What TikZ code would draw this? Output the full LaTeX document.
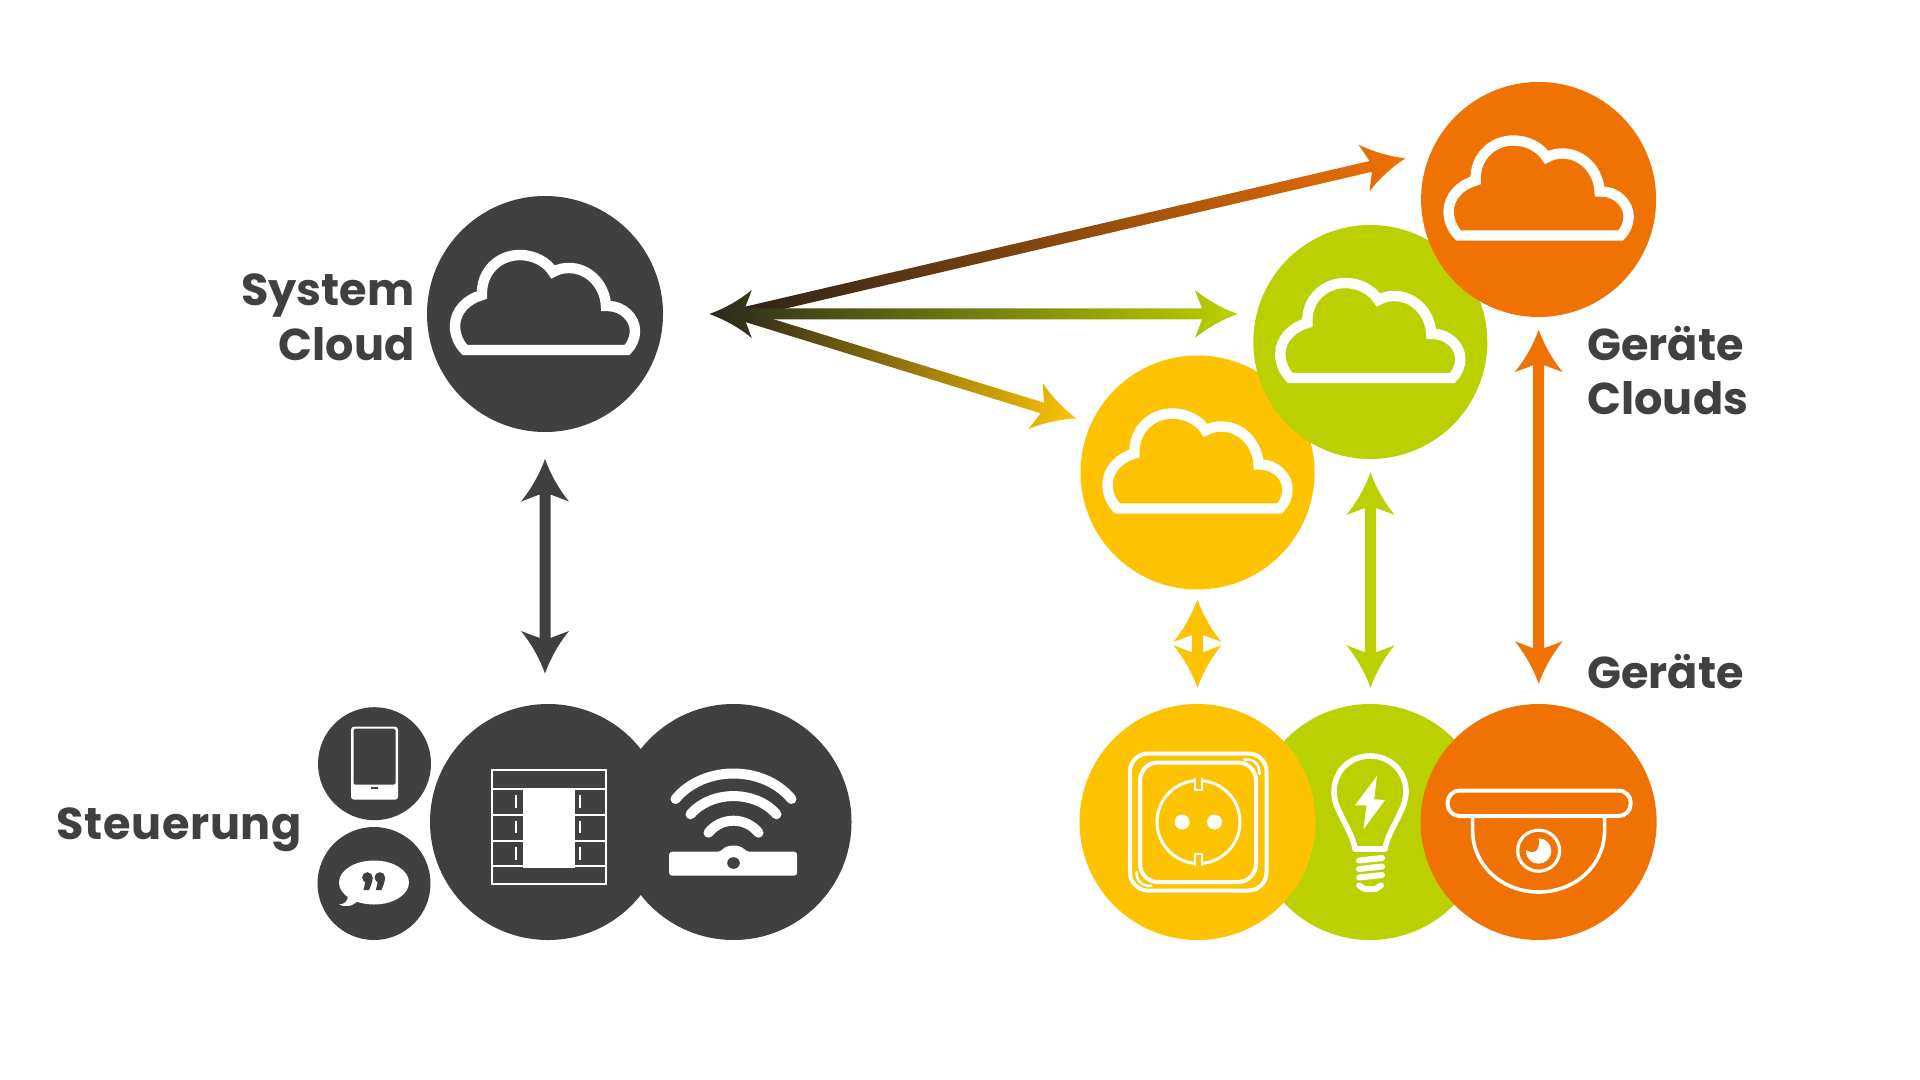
\documentclass[tikz,border=0pt]{standalone}
\usepackage{fontspec}
\setmainfont{Poppins}
\usetikzlibrary{calc}
\definecolor{dark}{HTML}{404040}
\definecolor{yel}{HTML}{FDC300}
\definecolor{grn}{HTML}{BBD000}
\definecolor{org}{HTML}{EF7203}
\definecolor{startg}{HTML}{2A2A1C}
\definecolor{starto}{HTML}{2B2218}
\definecolor{starty}{HTML}{2D2A18}
\tikzset{
  disc/.style={circle,inner sep=0pt,minimum size=#1*0.5pt},
  lab/.style={inner sep=0pt,text=dark,font=\fontsize{22.3}{26}\selectfont\bfseries},
  cloudicon/.pic={
    \draw[white,line width=5.2pt,miter limit=3]
      (-80,36) .. controls (-87,29) and (-90,20) .. (-90,12)
      .. controls (-90,-3) and (-78,-15) .. (-63,-19)
      .. controls (-64,-42) and (-47,-59) .. (-25,-59)
      .. controls (-11,-59) and (2,-52) .. (8,-42)
      .. controls (13,-45) and (19,-46) .. (24,-46)
      .. controls (44,-46) and (60,-29) .. (61,-8)
      -- (63,-8)
      .. controls (78,-8) and (90,4) .. (90,17)
      .. controls (90,24) and (87,31) .. (82,36) -- cycle;
  },
  phoneicon/.pic={
    \fill[white,rounded corners=1.5pt] (-23.5,-37) rectangle (23.5,36);
    \fill[dark,rounded corners=.8pt] (-21,-35) -- (21,-35) -- (21,21) -- (-21,21) -- cycle;
    \fill[dark] (-3.5,23.6) rectangle (3.5,25);
  },
  speechicon/.pic={
    \fill[white] (0,-1) ellipse (35 and 22);
    \fill[white] (-26,12) .. controls (-26,18) and (-30,21) .. (-35,21) .. controls (-28,24) and (-21,23) .. (-16,17) -- cycle;
    \foreach \qx in {-6.6,5.8}{
      \fill[dark] (\qx,-6) circle (5.3);
      \fill[dark] (\qx+5.2,-6) .. controls (\qx+5.2,-1) and (\qx+3,3) .. (\qx+1.6,6.5) -- (\qx-3.9,6.5) .. controls (\qx-3.5,3) and (\qx-2,0) .. (\qx-2,-3) -- cycle;
    }
  },
  panelicon/.pic={
    \draw[white,line width=1pt] (-56.5,-52) rectangle (57.5,62);
    \foreach \yy in {-32.7,-7,18.7,43.7}
      \draw[white,line width=1pt] (-56.5,\yy) -- (57.5,\yy);
    \fill[white] (-25.5,-33.7) rectangle (27,45.7);
    \foreach \ya/\yb in {-27/-14.3,-1.3/11.3,24.7/38}{
      \draw[white,line width=1pt] (-32,\ya) -- (-32,\yb);
      \draw[white,line width=1pt] (32,\ya) -- (32,\yb);
    }
  },
  routericon/.pic={
    \draw[white,line width=5pt,line cap=round] (-58,-23) .. controls (-30,-57) and (30,-57) .. (58,-23);
    \draw[white,line width=5pt,line cap=round] (-43,-7.7) .. controls (-22,-32) and (22,-32) .. (43,-7.7);
    \draw[white,line width=5pt,line cap=round] (-25,10.7) .. controls (-12,-5.3) and (12,-5.3) .. (25,10.7);
    \fill[white,rounded corners=1.5pt] (-64.4,29.7) -- (-13,29.7) .. controls (-9,25) and (-4,23.7) .. (0,23.7) .. controls (4,23.7) and (9,25) .. (13,29.7) -- (63.6,29.7) -- (63.6,53.7) -- (-64.4,53.7) -- cycle;
    \fill[dark] (0,41) ellipse (6.3 and 5.8);
  },
  socketicon/.pic={
    \draw[white,line width=2pt,rounded corners=9pt] (-67.5,-68.5) rectangle (69,68.5);
    \draw[white,line width=2pt,rounded corners=9pt] (-57.5,-59.5) rectangle (58.5,60);
    \draw[white,line width=1.3pt,line cap=round] (47,-62.5) .. controls (57,-63) and (62,-58) .. (62,-48);
    \draw[white,line width=1.3pt,line cap=round] (-61,50) .. controls (-61,59) and (-56,64) .. (-46,64);
    \draw[white,line width=1.5pt] (1,0) circle (41.5);
    \fill[yel] (-2.5,-44) rectangle (4.5,-32);
    \draw[white,line width=1pt] (-2.5,-44) -- (-2.5,-32) -- (4.5,-32) -- (4.5,-44);
    \fill[yel] (-2.5,44) rectangle (4.5,32);
    \draw[white,line width=1pt] (-2.5,44) -- (-2.5,32) -- (4.5,32) -- (4.5,44);
    \fill[white] (-15.3,0) circle (7.5);
    \fill[white] (17,0) circle (7.5);
  },
  bulbicon/.pic={
    \draw[white,line width=2.8pt,line join=round]
      (-15,27) .. controls (-17,14) and (-25,3) .. (-30,-9)
      .. controls (-34,-16) and (-36,-24) .. (-36,-30)
      .. controls (-36,-51) and (-20,-66) .. (0,-66)
      .. controls (20,-66) and (36,-51) .. (36,-30)
      .. controls (36,-24) and (34,-16) .. (30,-9)
      .. controls (25,3) and (17,14) .. (15,27) -- cycle;
    \fill[white] (6.9,-46) -- (-15,-16.7) -- (-3.5,-16.7) -- (-6.5,7.3) -- (15,-22) -- (4.2,-22.7) -- cycle;
    \draw[white,line width=3pt,line cap=round] (-11,38.5) -- (12,36);
    \draw[white,line width=3pt,line cap=round] (-11,47) -- (12,44.5);
    \draw[white,line width=3pt,line cap=round] (-11,55.5) -- (12,53);
    \draw[white,line width=3pt,line cap=round,line join=round] (-11,63.5) -- (-5.5,67) -- (5.5,67) -- (11,63.5);
  },
  cameraicon/.pic={
    \draw[white,line width=2pt,rounded corners=6pt] (-91,-31.5) rectangle (92,-6);
    \draw[white,line width=1.8pt] (-66,-5) -- (-66,8) .. controls (-66,44) and (-36,70) .. (0,70) .. controls (36,70) and (66,44) .. (66,8) -- (66,-5);
    \draw[white,line width=1.6pt] (0,28.7) ellipse (21 and 20.5);
    \fill[white] (0,29) circle (12.7);
    \fill[org] (-12.8,28) .. controls (-8,31) and (-4,31) .. (-1,27) .. controls (0.5,24) and (0.5,21) .. (0,17) -- (0,15) -- (-14,15) -- cycle;
  },
}
% double headed arrow between two named coordinates, shaded along its axis
\newcommand\twoway[4]{%
  \pgfmathanglebetweenpoints{\pgfpointanchor{#1}{center}}{\pgfpointanchor{#2}{center}}\let\arang\pgfmathresult
  \pgfpointdiff{\pgfpointanchor{#1}{center}}{\pgfpointanchor{#2}{center}}\pgfgetlastxy\ardx\ardy
  \pgfmathsetmacro\arlen{veclen(\ardx,\ardy)*2}
  \pgfmathsetmacro\arb{\arlen-42.5}\pgfmathsetmacro\arn{\arlen-35.5}
  \pgfmathsetmacro\arca{\arlen-14}\pgfmathsetmacro\arcb{\arlen-29}
  \begin{scope}[transform canvas={shift={(#1)},rotate=\arang},x=.5pt,y=.5pt]
    \shade[left color=#3,right color=#4]
      (0,0) .. controls (14,5) and (29,13) .. (42.5,24) -- (35.5,5.5)
      -- (\arn,5.5) -- (\arb,24) .. controls (\arcb,13) and (\arca,5) .. (\arlen,0)
      .. controls (\arca,-5) and (\arcb,-13) .. (\arb,-24) -- (\arn,-5.5)
      -- (35.5,-5.5) -- (42.5,-24) .. controls (29,-13) and (14,-5) .. (0,0) -- cycle;
  \end{scope}}
% single headed arrow: flat start
\newcommand\oneway[4]{%
  \pgfmathanglebetweenpoints{\pgfpointanchor{#1}{center}}{\pgfpointanchor{#2}{center}}\let\arang\pgfmathresult
  \pgfpointdiff{\pgfpointanchor{#1}{center}}{\pgfpointanchor{#2}{center}}\pgfgetlastxy\ardx\ardy
  \pgfmathsetmacro\arlen{veclen(\ardx,\ardy)*2}
  \pgfmathsetmacro\arb{\arlen-42.5}\pgfmathsetmacro\arn{\arlen-35.5}
  \pgfmathsetmacro\arca{\arlen-14}\pgfmathsetmacro\arcb{\arlen-29}
  \begin{scope}[transform canvas={shift={(#1)},rotate=\arang},x=.5pt,y=.5pt]
    \shade[left color=#3,right color=#4]
      (0,5.5) -- (\arn,5.5) -- (\arb,24) .. controls (\arcb,13) and (\arca,5) .. (\arlen,0)
      .. controls (\arca,-5) and (\arcb,-13) .. (\arb,-24) -- (\arn,-5.5) -- (0,-5.5) -- cycle;
  \end{scope}}
\begin{document}
\begin{tikzpicture}[x=.5pt,y=-.5pt]
\useasboundingbox (0,0) rectangle (1920,1080);
\fill[white] (0,0) rectangle (1920,1080);
% circles
\node[disc=236,fill=dark] (sys) at (545,314) {};
\node[disc=234,fill=yel] (cy) at (1197.5,472.5) {};
\node[disc=234,fill=grn] (cg) at (1370.3,342) {};
\node[disc=235,fill=org] (co) at (1538.6,199.5) {};
\node[disc=113,fill=dark] (phone) at (374.5,763.7) {};
\node[disc=113,fill=dark] (speech) at (374,883.5) {};
\node[disc=236,fill=dark] (panel) at (548,822) {};
\node[disc=236,fill=dark] (router) at (733.5,822) {};
\node[disc=236,fill=grn] (dg) at (1370,822) {};
\node[disc=236,fill=yel] (dy) at (1197.5,822) {};
\node[disc=236,fill=org] (do) at (1538.6,822) {};
% icons
\pic at (sys) {cloudicon};
\pic at (cy) {cloudicon};
\pic at (cg) {cloudicon};
\pic at (co) {cloudicon};
\pic at (phone) {phoneicon};
\pic at (speech) {speechicon};
\pic at (panel) {panelicon};
\pic at (router) {routericon};
\pic at (dy) {socketicon};
\pic at (dg) {bulbicon};
\pic at (do) {cameraicon};
% labels
\node[lab,anchor=base east] (t1) at (415,306) {System};
\node[lab,anchor=base east] (t2) at (415,360) {Cloud};
\node[lab,anchor=base west] (t3) at (1587,361) {Geräte};
\node[lab,anchor=base west] (t4) at (1587,415) {Clouds};
\node[lab,anchor=base west] (t5) at (1587,688) {Geräte};
\node[lab,anchor=base west] (t6) at (56,839) {\addfontfeature{LetterSpace=1.5}Steuerung};
% connector ends
\coordinate (hub) at (709.3,314);
\coordinate (hubo) at (738,314);
\coordinate (toO) at (1405.4,158.3);
\coordinate (toG) at (1237.5,314);
\coordinate (toY) at (1076.3,418.5);
\coordinate (s1) at (545,459);
\coordinate (s2) at (545,673.5);
\coordinate (y1) at (1197.4,599.4);
\coordinate (y2) at (1197.4,687.8);
\coordinate (g1) at (1370.5,472.4);
\coordinate (g2) at (1370.5,687.8);
\coordinate (o1) at (1538.7,329.7);
\coordinate (o2) at (1538.7,683.7);
% connectors
\twoway{s1}{s2}{dark}{dark}
\twoway{y1}{y2}{yel}{yel}
\twoway{g1}{g2}{grn}{grn}
\twoway{o1}{o2}{org}{org}
\oneway{hubo}{toO}{starto}{org}
\oneway{hubo}{toY}{starty}{yel}
\twoway{hub}{toG}{startg}{grn}
\end{tikzpicture}
\end{document}
